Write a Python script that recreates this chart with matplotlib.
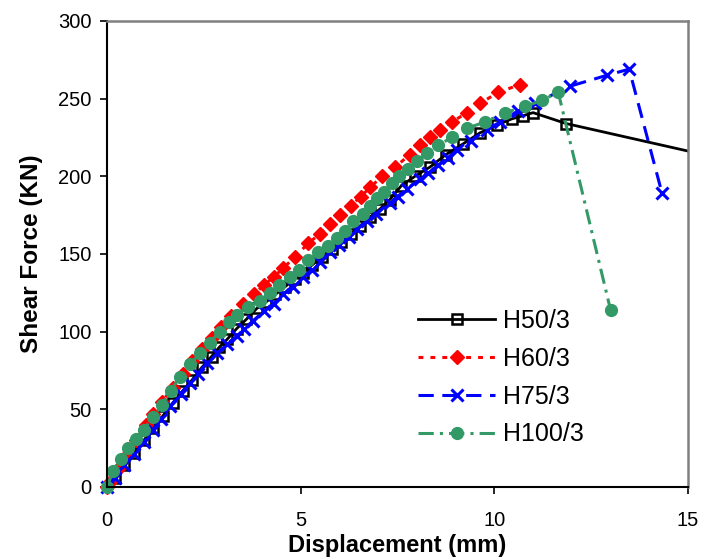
import matplotlib.pyplot as plt

plt.rcParams['font.family'] = ['Liberation Sans', 'DejaVu Sans']

# H50/3
x50 = [0, 0.2, 0.45, 0.7, 0.95, 1.2, 1.45, 1.7, 1.96, 2.2, 2.45, 2.7, 2.9, 3.1, 3.35,
       3.6, 3.87, 4.1, 4.35, 4.6, 4.85, 5.06, 5.3, 5.55, 5.8, 6.05, 6.3, 6.53, 6.8,
       7.05, 7.3, 7.6, 7.95, 8.34, 8.75, 9.2, 9.63, 10.07, 10.45, 10.74, 11.0, 11.85, 17]
y50 = [0, 6, 14, 22, 30, 38, 46, 54, 62, 69, 77, 84, 90, 95, 102,
       108, 115, 119, 124, 129, 134, 138, 143, 148, 153, 158, 163, 168, 174,
       179, 185, 194, 200, 206, 214, 221, 228, 233, 237, 239, 241, 234, 205]

# H60/3
x60 = [0, 0.1, 0.3, 0.5, 0.75, 1.0, 1.2, 1.42, 1.7, 1.95, 2.2, 2.45, 2.7, 2.95, 3.2,
       3.5, 3.8, 4.05, 4.3, 4.55, 4.85, 5.2, 5.5, 5.75, 6.02, 6.3, 6.55, 6.8, 7.1,
       7.44, 7.82, 8.08, 8.34, 8.6, 8.9, 9.3, 9.63, 10.1, 10.65]
y60 = [0, 4, 12, 20, 30, 40, 47, 55, 64, 73, 81, 89, 96, 103, 110,
       118, 124, 130, 135, 141, 148, 157, 163, 169, 175, 181, 187, 193, 200,
       206, 214, 220, 225, 230, 235, 241, 247, 254, 259]

# H75/3
x75 = [0, 0.2, 0.45, 0.7, 0.95, 1.2, 1.4, 1.63, 1.9, 2.15, 2.35, 2.58, 2.85, 3.1, 3.35,
       3.55, 3.77, 4.05, 4.3, 4.55, 4.8, 5.06, 5.3, 5.5, 5.75, 6.0, 6.25, 6.45, 6.7,
       6.95, 7.3, 7.5, 7.75, 8.08, 8.3, 8.55, 8.8, 9.04, 9.4, 9.8, 10.15, 10.6, 11.05,
       11.95, 12.9, 13.48, 14.33]
y75 = [0, 6, 14, 21, 29, 37, 44, 52, 60, 67, 73, 80, 86, 92, 97,
       102, 107, 113, 118, 124, 129, 135, 140, 145, 151, 156, 161, 166, 171,
       176, 183, 187, 192, 198, 202, 207, 212, 217, 223, 230, 235, 242, 247,
       258, 265, 269, 189]

# H100/3
x100 = [0, 0.15, 0.35, 0.55, 0.75, 0.95, 1.2, 1.42, 1.65, 1.88, 2.15, 2.4, 2.65, 2.92,
        3.15, 3.36, 3.65, 3.95, 4.2, 4.45, 4.72, 4.95, 5.2, 5.45, 5.7, 5.94, 6.15, 6.35,
        6.6, 6.8, 6.97, 7.15, 7.36, 7.55, 7.77, 8.0, 8.25, 8.55, 8.9, 9.3, 9.76, 10.28,
        10.8, 11.23, 11.65, 13.0]
y100 = [0, 10, 18, 25, 31, 37, 45, 53, 62, 71, 79, 86, 93, 100,
        106, 111, 116, 120, 125, 130, 135, 140, 146, 151, 155, 160, 165, 171,
        176, 181, 186, 190, 196, 200, 205, 210, 215, 220, 225, 231, 235, 241,
        245, 249, 254, 114]

fig = plt.figure(figsize=(7.01, 5.6), dpi=100)
ax = fig.add_axes([0.1526, 0.1304, 0.8289, 0.8321])

ax.plot(x50, y50, color='black', linewidth=2, marker='s', markersize=7,
        markerfacecolor='none', markeredgecolor='black', markeredgewidth=1.8,
        label='H50/3')
ax.plot(x60, y60, color='#FF0000', linewidth=2.2, dashes=(1.6, 2.3), marker='D',
        markersize=7, markeredgecolor='#FF0000', label='H60/3', clip_on=False)
ax.plot(x75, y75, color='#0000FF', linewidth=2.2, dashes=(5, 2.8), marker='x',
        markersize=8, markeredgewidth=2.2, label='H75/3', clip_on=False)
ax.plot(x100, y100, color='#339966', linewidth=2.2, dashes=(5, 2, 1, 2), marker='o',
        markersize=8.5, markeredgecolor='#339966', label='H100/3', clip_on=False)

ax.set_xlim(0, 15)
ax.set_ylim(0, 300)
ax.set_xticks([0, 5, 10, 15])
ax.set_yticks(range(0, 301, 50))
ax.tick_params(direction='out', length=5, width=1.2, labelsize=14.5, colors='black')
ax.tick_params(axis='x', pad=12)
ax.tick_params(axis='y', pad=6)

for s in ['left', 'bottom']:
    ax.spines[s].set_color('black')
    ax.spines[s].set_linewidth(1.5)
for s in ['top', 'right']:
    ax.spines[s].set_color('#808080')
    ax.spines[s].set_linewidth(1.8)

ax.set_xlabel('Displacement (mm)', fontsize=17, fontweight='bold', labelpad=3)
ax.set_ylabel('Shear Force (KN)', fontsize=17.5, fontweight='bold', labelpad=11)

ax.legend(loc='upper left', bbox_to_anchor=(0.596, 0.448),
          bbox_transform=fig.transFigure, frameon=False, fontsize=18,
          handlelength=3.1, handletextpad=0.3, labelspacing=0.55,
          borderpad=0, borderaxespad=0, numpoints=1)

fig.savefig('out.png', dpi=100)
